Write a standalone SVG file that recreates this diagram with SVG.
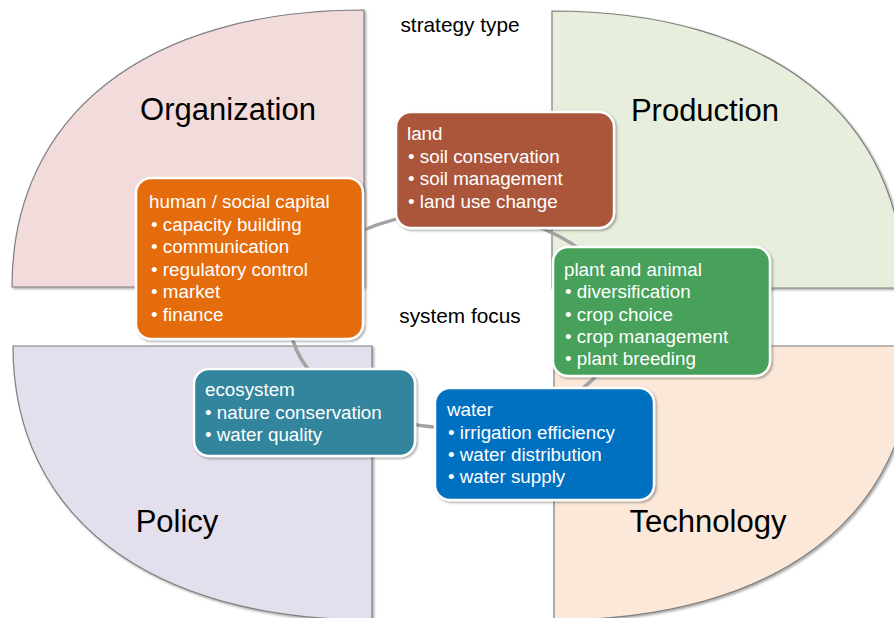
<svg xmlns="http://www.w3.org/2000/svg" width="894" height="618" viewBox="0 0 894 618">
<defs>
<filter id="sh" x="-10%" y="-10%" width="120%" height="120%">
<feDropShadow dx="1.5" dy="1.5" stdDeviation="1.2" flood-color="#000" flood-opacity="0.35"/>
</filter>
<style>
.quad{stroke:#7f7f7f;stroke-width:1.2;filter:url(#sh)}
.box{stroke:#fff;stroke-width:2.5;filter:url(#sh)}
.bt{font-family:"Liberation Sans",Arial,sans-serif;font-size:18.8px;fill:#fff}
.big{font-family:"Liberation Sans",Arial,sans-serif;font-size:31px;fill:#000;text-anchor:middle}
.lbl{font-family:"Liberation Sans",Arial,sans-serif;font-size:20.8px;fill:#000;text-anchor:middle}
</style>
</defs>
<rect width="894" height="618" fill="#fff"/>
<g id="organization">
<path class="quad" fill="#F2DCDB" d="M364,287 L12,287 C12,115 146,10 364,10 Z"/>
<text class="big" x="228" y="120">Organization</text>
</g>
<g id="production">
<path class="quad" fill="#E7EEDB" d="M552,288 L552,11 C770,11 904,116 904,288 Z"/>
<text class="big" x="705" y="121">Production</text>
</g>
<g id="policy">
<path class="quad" fill="#E4DFEC" d="M372,346 L13,346 C13,516 149,620 372,620 Z"/>
<text class="big" x="177" y="532">Policy</text>
</g>
<g id="technology">
<path class="quad" fill="#FBE8D8" d="M554,346 L913,346 C913,516 777,620 554,620 Z"/>
<text class="big" x="708" y="532">Technology</text>
</g>
<text class="lbl" x="460" y="32">strategy type</text>
<g id="connectors">
<ellipse cx="455" cy="320" rx="165" ry="108" fill="none" stroke="#a3a3a3" stroke-width="3.5"/>
</g>
<text class="lbl" x="460" y="323">system focus</text>
<g id="land">
<rect class="box" x="396" y="112" width="218" height="116" rx="15" fill="#AB573B"/>
<text class="bt" x="407" y="140">land</text>
<text class="bt" x="408" y="163">• soil conservation</text>
<text class="bt" x="408" y="185">• soil management</text>
<text class="bt" x="408" y="207.5">• land use change</text>
</g>
<g id="human-social-capital">
<rect class="box" x="136" y="178" width="227" height="161" rx="15" fill="#E46C0A"/>
<text class="bt" x="149" y="208">human / social capital</text>
<text class="bt" x="151" y="230.5">• capacity building</text>
<text class="bt" x="151" y="253">• communication</text>
<text class="bt" x="151" y="275.5">• regulatory control</text>
<text class="bt" x="151" y="298">• market</text>
<text class="bt" x="151" y="320.5">• finance</text>
</g>
<g id="plant-and-animal">
<rect class="box" x="553" y="247" width="217" height="129" rx="15" fill="#46A15A"/>
<text class="bt" x="564" y="276">plant and animal</text>
<text class="bt" x="565" y="298">• diversification</text>
<text class="bt" x="565" y="320.5">• crop choice</text>
<text class="bt" x="565" y="342.5">• crop management</text>
<text class="bt" x="565" y="365">• plant breeding</text>
</g>
<g id="ecosystem">
<rect class="box" x="194" y="369" width="221" height="87" rx="15" fill="#31859C"/>
<text class="bt" x="205" y="396">ecosystem</text>
<text class="bt" x="205" y="418.5">• nature conservation</text>
<text class="bt" x="205" y="441">• water quality</text>
</g>
<g id="water">
<rect class="box" x="435" y="388" width="219" height="112" rx="15" fill="#0070C0"/>
<text class="bt" x="447" y="416">water</text>
<text class="bt" x="448" y="438.5">• irrigation efficiency</text>
<text class="bt" x="448" y="461">• water distribution</text>
<text class="bt" x="448" y="483">• water supply</text>
</g>
</svg>
